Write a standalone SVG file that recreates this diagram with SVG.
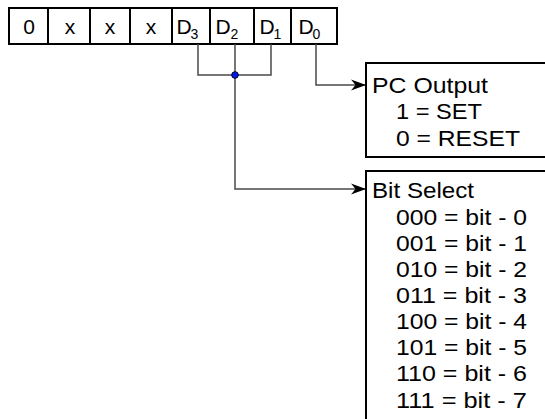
<svg xmlns="http://www.w3.org/2000/svg" width="545" height="419" viewBox="0 0 545 419">
  <style>
    .box { fill: #ffffff; stroke: #000000; stroke-width: 2; }
    .div { stroke: #000000; stroke-width: 2; }
    .t { font-family: "Liberation Sans", Arial, sans-serif; font-size: 22px; fill: #000000; }
    .c { font-family: "Liberation Sans", Arial, sans-serif; font-size: 21px; fill: #000000; }
    .s { font-family: "Liberation Sans", Arial, sans-serif; font-size: 14px; fill: #000000; }
    .wire { fill: none; stroke: #4a4a4a; stroke-width: 1.5; }
  </style>
  <defs>
    <marker id="arrow" markerUnits="userSpaceOnUse" viewBox="-16 -6 17 12" refX="0" refY="0" markerWidth="17" markerHeight="12" orient="auto">
      <path d="M0,0 L-15,-5.5 L-10.5,0 L-15,5.5 Z" fill="#000000"/>
    </marker>
  </defs>

  <g id="register">
    <rect class="box" x="9" y="8" width="328" height="36"/>
    <line class="div" x1="48" y1="8" x2="48" y2="44"/>
    <line class="div" x1="90" y1="8" x2="90" y2="44"/>
    <line class="div" x1="130" y1="8" x2="130" y2="44"/>
    <line class="div" x1="172" y1="8" x2="172" y2="44"/>
    <line class="div" x1="210" y1="8" x2="210" y2="44"/>
    <line class="div" x1="254" y1="8" x2="254" y2="44"/>
    <line class="div" x1="291" y1="8" x2="291" y2="44"/>
    <text class="c" x="29" y="33.5" text-anchor="middle">0</text>
    <text class="c" x="70" y="33.5" text-anchor="middle">x</text>
    <text class="c" x="110" y="33.5" text-anchor="middle">x</text>
    <text class="c" x="151" y="33.5" text-anchor="middle">x</text>
    <text class="c" x="176.5" y="33.5">D</text><text class="s" x="190.5" y="39">3</text>
    <text class="c" x="215.5" y="33.5">D</text><text class="s" x="230.5" y="39">2</text>
    <text class="c" x="259.5" y="33.5">D</text><text class="s" x="273.5" y="39">1</text>
    <text class="c" x="298.5" y="33.5">D</text><text class="s" x="312.5" y="39">0</text>
  </g>

  <g id="connectors">
    <path class="wire" d="M198,44 V75 H271 V44"/>
    <path class="wire" d="M235,44 V189 H366" marker-end="url(#arrow)"/>
    <path class="wire" d="M316,44 V85 H366" marker-end="url(#arrow)"/>
    <circle cx="235" cy="75" r="3.3" fill="#0018f0" stroke="#000022" stroke-width="1"/>
  </g>

  <g id="pc-output">
    <rect class="box" x="366" y="63" width="200" height="94"/>
    <text class="t" x="372" y="92.5" textLength="116" lengthAdjust="spacingAndGlyphs">PC Output</text>
    <text class="t" x="396" y="119" textLength="86" lengthAdjust="spacingAndGlyphs">1 = SET</text>
    <text class="t" x="396" y="145.5" textLength="124" lengthAdjust="spacingAndGlyphs">0 = RESET</text>
  </g>

  <g id="bit-select">
    <rect class="box" x="366" y="171" width="200" height="270"/>
    <text class="t" x="372" y="198" textLength="102" lengthAdjust="spacingAndGlyphs">Bit Select</text>
    <text class="t" x="396" y="224.5" textLength="131" lengthAdjust="spacingAndGlyphs">000 = bit - 0</text>
    <text class="t" x="396" y="250.5" textLength="131" lengthAdjust="spacingAndGlyphs">001 = bit - 1</text>
    <text class="t" x="396" y="277" textLength="131" lengthAdjust="spacingAndGlyphs">010 = bit - 2</text>
    <text class="t" x="396" y="303" textLength="131" lengthAdjust="spacingAndGlyphs">011 = bit - 3</text>
    <text class="t" x="396" y="329" textLength="131" lengthAdjust="spacingAndGlyphs">100 = bit - 4</text>
    <text class="t" x="396" y="355" textLength="131" lengthAdjust="spacingAndGlyphs">101 = bit - 5</text>
    <text class="t" x="396" y="381" textLength="131" lengthAdjust="spacingAndGlyphs">110 = bit - 6</text>
    <text class="t" x="396" y="407.5" textLength="131" lengthAdjust="spacingAndGlyphs">111 = bit - 7</text>
  </g>
</svg>
